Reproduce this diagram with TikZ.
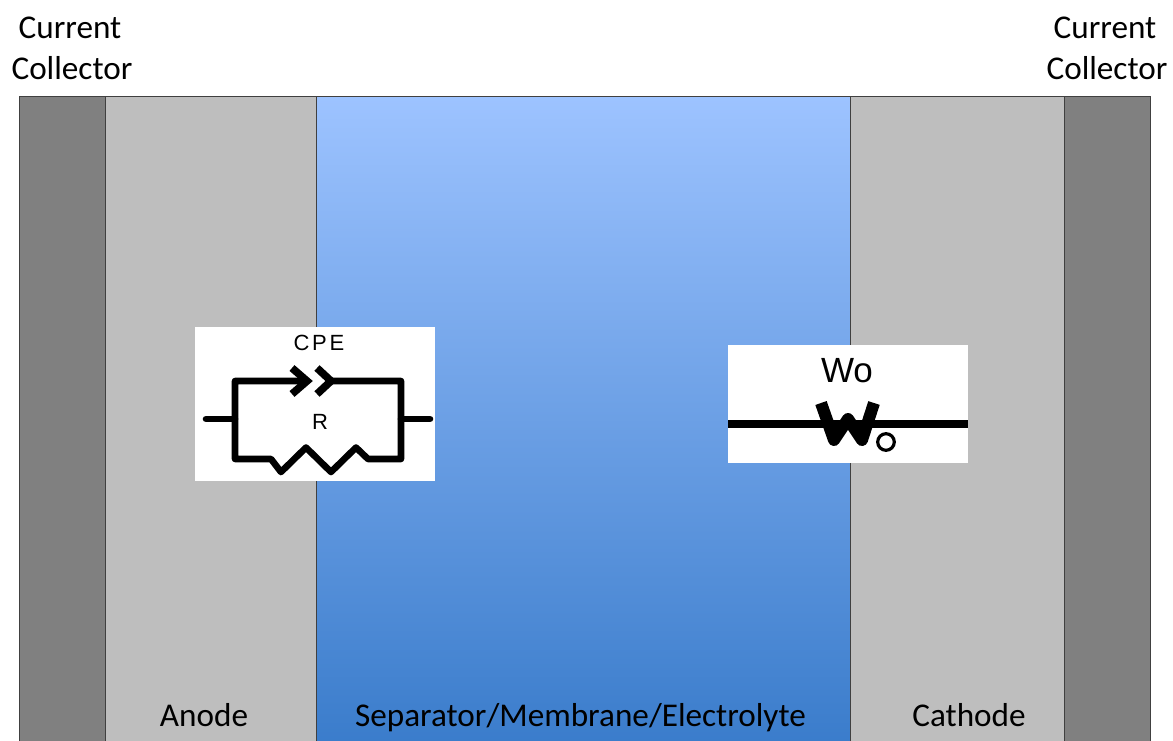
\documentclass[tikz,border=0pt]{standalone}
\usepackage{fontspec}
\setmainfont{Carlito}
\newfontfamily\symbfont{Liberation Sans}
\newfontfamily\cpefont[LetterSpace=12]{Liberation Sans}
\usetikzlibrary{calc}
\tikzset{every node/.style={font=\fontsize{16.6}{20}\selectfont, inner sep=0pt, text=black}}
\tikzset{layer/.style={draw=black!75, line width=0.5pt}}
\tikzset{wire/.style={line width=3.3pt, line cap=round, line join=round}}

\begin{document}
\begin{tikzpicture}[x=0.5pt, y=-0.5pt]
  % Bounding box fixe
  \path[use as bounding box] (0,0) rectangle (1173,740);

  \definecolor{collectorcol}{RGB}{128,128,128}
  \definecolor{electrodecol}{RGB}{190,190,190}
  \definecolor{sepTopcol}{RGB}{157,195,255}
  \definecolor{sepMidcol}{RGB}{128,172,238}
  \definecolor{sepBotcol}{RGB}{58,124,203}

  % Layers, cut by the bottom edge.
  \begin{scope}
    \clip (0,0) rectangle (1173,740);
    \shade[top color=sepTopcol, middle color=sepMidcol, bottom color=sepBotcol] (316,96) rectangle (850,745);
    \draw[layer, fill=collectorcol] (19,96) rectangle (105,745);
    \draw[layer, fill=electrodecol] (105,96) rectangle (316,745);
    \draw[layer] (316,96) rectangle (850,745);
    \draw[layer, fill=electrodecol] (850,96) rectangle (1064,745);
    \draw[layer, fill=collectorcol] (1064,96) rectangle (1150,745);
  \end{scope}

  % Layer labels.
  \node (currentL) at (70,28) {Current};
  \node (collectorL) at (72,68) {Collector};
  \node (currentR) at (1105,28) {Current};
  \node (collectorR) at (1107,68) {Collector};
  \node[anchor=base] (anode) at (204,726) {Anode};
  \node[anchor=base] (separator) at (580.5,726) {Separator/Membrane/Electrolyte};
  \node[anchor=base] (cathode) at (969,726) {Cathode};

  % CPE parallel R.
  \fill[white] (195,327) rectangle (435,481);
  \node[font=\cpefont\fontsize{11}{12}\selectfont] (cpe) at (319,343) {CPE};
  \node[font=\symbfont\fontsize{11}{12}\selectfont] (res) at (320,422) {R};
  \coordinate (tipA) at (307,381);
  \coordinate (tipB) at (331,381);
  \draw[wire] (206,419) -- (235,419);
  \draw[wire] (401,419) -- (430,419);
  \draw[wire] (tipA) -- (235,381) -- (235,459) -- (271,459) -- (281,472) -- (306,447.5)
    -- (331,472) -- (356,447.5) -- (368,459) -- (401,459) -- (401,381) -- (tipB);
  \draw[wire, line width=3.8pt, line cap=butt, line join=miter] (292,368) -- (tipA) -- (292,394);
  \draw[wire, line width=3.8pt, line cap=butt, line join=miter] (317,368) -- (tipB) -- (317,394);

  % Warburg element.
  \fill[white] (728,345) rectangle (968,463);
  \node[font=\symbfont\fontsize{17.5}{20}\selectfont] (wo) at (847,371) {Wo};
  \draw[line width=4pt] (728,424) -- (968,424);
  \draw[line width=6pt, line join=round] (821,403) -- (834,440) -- (848,419) -- (862,440) -- (874,403);
  \draw[line width=1.6pt] (886,442) circle (8.3);
\end{tikzpicture}
\end{document}
